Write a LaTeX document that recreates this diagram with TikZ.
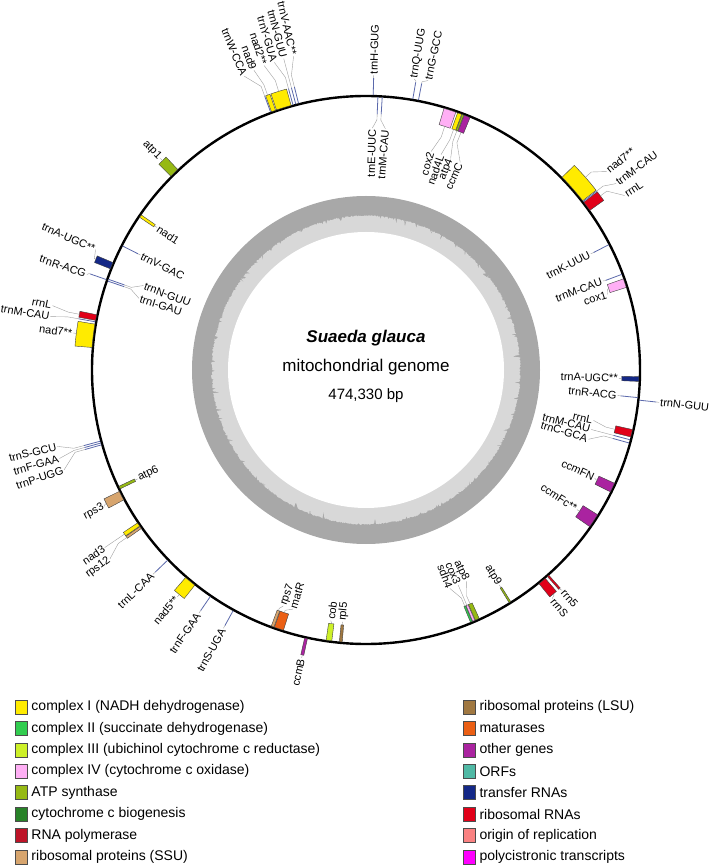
\documentclass[tikz,border=0pt]{standalone}
\usepackage{fontspec}
\setmainfont{Liberation Sans}
\usepackage{tikz}
\usetikzlibrary{positioning}

\definecolor{cI}{RGB}{255,235,0}
\definecolor{cII}{RGB}{50,205,80}
\definecolor{cIII}{RGB}{205,240,40}
\definecolor{cIV}{RGB}{255,175,245}
\definecolor{atp}{RGB}{150,185,20}
\definecolor{ccm}{RGB}{40,130,40}
\definecolor{rpo}{RGB}{190,20,40}
\definecolor{ssu}{RGB}{215,165,110}
\definecolor{lsu}{RGB}{160,120,65}
\definecolor{mat}{RGB}{235,95,20}
\definecolor{oth}{RGB}{170,35,160}
\definecolor{orf}{RGB}{80,185,165}
\definecolor{trna}{RGB}{20,40,135}
\definecolor{rrna}{RGB}{225,0,25}
\definecolor{ori}{RGB}{250,130,130}
\definecolor{poly}{RGB}{255,0,255}
\definecolor{gcdark}{RGB}{168,168,168}
\definecolor{gclight}{RGB}{216,216,216}

\tikzset{
  lbl/.style={font=\fontsize{11}{13}\selectfont, inner sep=1pt},
  leader/.style={draw=gray!75, line width=0.4pt},
  genebox/.style={draw=black!75, line width=0.4pt},
  trnaline/.style={draw=trna!70, line width=0.8pt},
  legbox/.style={draw=black!70, line width=0.6pt, minimum width=12pt, minimum height=14pt, inner sep=0pt},
  legtxt/.style={font=\fontsize{14}{16}\selectfont, inner sep=0pt, anchor=west},
}

% gene box: start angle, end angle (clockwise from top), inner radius, outer radius, colour
\newcommand{\gbox}[5]{%
  \filldraw[genebox, fill=#5] ({90-#1}:#3) arc[start angle={90-#1}, end angle={90-#2}, radius=#3pt]
    -- ({90-#2}:#4) arc[start angle={90-#2}, end angle={90-#1}, radius=#4pt] -- cycle;}
% tRNA: angle, from radius, to radius
\newcommand{\trna}[3]{\draw[trnaline] ({90-#1}:#2) -- ({90-#1}:#3);}
% label: anchor, feature angle, feature radius, label angle, label radius, name, text
\newcommand{\glab}[7]{%
  \pgfmathsetmacro{\labrot}{(#4<180) ? 90-#4 : 270-#4}%
  \pgfmathsetmacro{\labmid}{#3+0.4*(#5-#3)}%
  \coordinate (#6-f) at ({90-#2}:#3);
  \node[lbl, anchor=#1, rotate=\labrot] (#6) at ({90-#4}:#5) {#7};
  \draw[leader] (#6-f) -- ({90-#2}:\labmid) -- (#6.#1);}

\begin{document}
\begin{tikzpicture}[x=1pt, y=1pt]
\useasboundingbox (-366,-496) rectangle (343,370);

% GC content
\pgfmathsetseed{42}
\fill[gcdark] (0,0) circle[radius=174pt];
\fill[gclight] (90:155) \foreach \a in {1,...,1079} { -- ({90-\a/3}:{155-1.5*rnd-7*(rnd>0.93)*rnd}) } -- cycle;
\fill[white] (0,0) circle[radius=138pt];

% genome
\draw[line width=2.4pt] (0,0) circle[radius=274pt];

% genes, outer side
\gbox{339.9}{340.8}{275}{292}{cI}
\gbox{341.0}{344.2}{275}{292}{cI}
\gbox{45.5}{52.0}{275}{292}{cI}
\gbox{52.4}{54.5}{275}{292}{rrna}
\gbox{138.3}{138.7}{275}{292}{rrna}
\gbox{139.3}{141.0}{275}{292}{rrna}
\gbox{192.3}{192.9}{275}{292}{oth}
\gbox{218.5}{221.0}{275}{292}{cI}
\gbox{234.8}{235.3}{275}{292}{ssu}
\gbox{235.4}{236.2}{275}{292}{cI}
\gbox{241.8}{243.8}{275}{292}{ssu}
\gbox{274.7}{279.6}{275}{292}{cI}
\gbox{280.4}{281.6}{275}{292}{rrna}
\gbox{291.6}{293.0}{275}{292}{trna}
\gbox{314.8}{316.8}{275}{292}{atp}
% genes, inner side
\gbox{16.6}{19.2}{256}{273}{cIV}
\gbox{19.6}{20.5}{256}{273}{cI}
\gbox{20.6}{21.0}{256}{273}{atp}
\gbox{21.1}{22.4}{256}{273}{oth}
\gbox{70.5}{72.4}{256}{273}{cIV}
\gbox{91.4}{92.4}{256}{273}{trna}
\gbox{102.6}{104.2}{256}{273}{rrna}
\gbox{114.5}{116.5}{256}{273}{oth}
\gbox{122.0}{125.0}{256}{273}{oth}
\gbox{148.0}{148.4}{256}{273}{atp}
\gbox{155.5}{156.4}{256}{273}{atp}
\gbox{156.5}{157.0}{256}{273}{cIV}
\gbox{157.1}{157.5}{256}{273}{cII}
\gbox{185.0}{185.6}{256}{273}{lsu}
\gbox{187.2}{188.4}{256}{273}{cIII}
\gbox{197.6}{199.6}{256}{273}{mat}
\gbox{199.7}{200.3}{256}{273}{ssu}
\gbox{244.2}{244.8}{256}{273}{atp}
\gbox{304.0}{304.6}{256}{273}{cI}

% tRNAs
\foreach \a in {339.7,344.6,345.2,345.8,1.5,9.8,11.0,52.2,96.3,208.9,214.5,226.2,254.2,254.6,255.0,280.1,289.2}
  {\trna{\a}{275}{292}}
\foreach \a in {2.5,3.4,62.7,69.5,95.8,104.8,105.5,289.0,289.4,297.0}
  {\trna{\a}{273}{256}}

% labels, outer side
\glab{east}{339.7}{292}{337.5}{318}{lW}{trnW-CCA}
\glab{east}{340.3}{292}{339.5}{320}{l9}{nad9}
\glab{east}{342.6}{292}{341.5}{321}{l2}{nad2**}
\glab{east}{344.6}{292}{343.4}{321}{lY}{trnY-GUA}
\glab{east}{345.2}{292}{345.2}{322}{lNa}{trnN-GUU}
\glab{east}{345.8}{292}{347.0}{322}{lVa}{trnV-AAC**}
\glab{west}{1.5}{292}{1.5}{295}{lH}{trnH-GUG}
\glab{west}{9.8}{292}{9.4}{295}{lQ}{trnQ-UUG}
\glab{west}{11.0}{292}{12.1}{296}{lG}{trnG-GCC}
\glab{west}{48.7}{292}{50.5}{312}{l7a}{nad7**}
\glab{west}{52.2}{292}{53.3}{312}{lMb}{trnM-CAU}
\glab{west}{53.4}{292}{56.0}{312}{lLa}{rrnL}
\glab{west}{96.3}{292}{96.3}{295}{lNb}{trnN-GUU}
\glab{west}{138.5}{292}{138.3}{295}{l5}{rrn5}
\glab{west}{140.1}{292}{140.9}{295}{lS}{rrnS}
\glab{east}{192.6}{292}{192.6}{295}{lB}{ccmB}
\glab{east}{208.9}{292}{208.9}{295}{lSa}{trnS-UGA}
\glab{east}{214.5}{292}{214.5}{295}{lFa}{trnF-GAA}
\glab{east}{219.7}{292}{219.8}{295}{l5b}{nad5**}
\glab{east}{226.2}{292}{226.2}{295}{lL}{trnL-CAA}
\glab{east}{235.0}{292}{233.6}{318}{l12}{rps12}
\glab{east}{235.8}{292}{235.8}{316}{l3}{nad3}
\glab{east}{242.8}{292}{242.5}{295}{ls3}{rps3}
\glab{east}{254.2}{292}{251.7}{318}{lP}{trnP-UGG}
\glab{east}{254.6}{292}{253.9}{319}{lFb}{trnF-GAA}
\glab{east}{255.0}{292}{256.1}{318}{lSb}{trnS-GCU}
\glab{east}{277.2}{292}{277.2}{295}{l7b}{nad7**}
\glab{east}{280.1}{292}{279.6}{320}{lMc}{trnM-CAU}
\glab{east}{281.0}{292}{281.6}{320}{lLb}{rrnL}
\glab{east}{289.2}{292}{288.9}{295}{lRa}{trnR-ACG}
\glab{east}{292.3}{292}{294.0}{296}{lAa}{trnA-UGC**}
\glab{east}{315.8}{292}{315.8}{295}{l1}{atp1}

% labels, inner side
\glab{east}{2.5}{256}{1.5}{242}{lE}{trnE-UUC}
\glab{east}{3.4}{256}{4.6}{242}{lMa}{trnM-CAU}
\glab{east}{17.9}{256}{16.6}{228}{lc2}{cox2}
\glab{east}{20.0}{256}{19.2}{228}{l4L}{nad4L}
\glab{east}{20.8}{256}{21.8}{228}{l4}{atp4}
\glab{east}{21.8}{256}{24.4}{228}{lC}{ccmC}
\glab{east}{62.7}{256}{62.6}{253}{lK}{trnK-UUU}
\glab{east}{69.5}{256}{69.4}{253}{lMd}{trnM-CAU}
\glab{east}{71.5}{256}{72.6}{253}{lc1}{cox1}
\glab{east}{91.9}{256}{91.9}{253}{lAb}{trnA-UGC**}
\glab{east}{95.8}{256}{95.8}{253}{lRb}{trnR-ACG}
\glab{east}{103.4}{256}{102.5}{233}{lLc}{rrnL}
\glab{east}{104.8}{256}{104.8}{233}{lMe}{trnM-CAU}
\glab{east}{105.5}{256}{107.3}{233}{lCb}{trnC-GCA}
\glab{east}{115.5}{256}{115.3}{253}{lFN}{ccmFN}
\glab{east}{123.5}{256}{123.5}{253}{lFc}{ccmFc**}
\glab{east}{148.2}{256}{148.2}{253}{l9b}{atp9}
\glab{east}{156.0}{256}{154.6}{234}{l8}{atp8}
\glab{east}{156.8}{256}{156.8}{234}{lc3}{cox3}
\glab{east}{157.3}{256}{159.0}{234}{ls4}{sdh4}
\glab{west}{185.3}{256}{185.3}{253}{lr5}{rpl5}
\glab{west}{187.8}{256}{188.0}{253}{lcob}{cob}
\glab{west}{198.6}{256}{197.0}{250}{lmR}{matR}
\glab{west}{200.0}{256}{199.3}{250}{lr7}{rps7}
\glab{west}{244.5}{256}{244.5}{253}{l6}{atp6}
\glab{west}{289.0}{256}{287.5}{238}{lI}{trnI-GAU}
\glab{west}{289.4}{256}{290.8}{238}{lNc}{trnN-GUU}
\glab{west}{297.0}{256}{297.0}{253}{lV}{trnV-GAC}
\glab{west}{304.3}{256}{304.3}{253}{ln1}{nad1}

% centre
\node[font=\fontsize{17}{20}\selectfont\bfseries\itshape] (species) at (0,32) {Suaeda glauca};
\node[font=\fontsize{17}{20}\selectfont] (molecule) at (0,3) {mitochondrial genome};
\node[font=\fontsize{15}{18}\selectfont] (length) at (0,-26) {474,330 bp};

% legend
\foreach \col/\txt [count=\i] in {cI/complex I (NADH dehydrogenase), cII/complex II (succinate dehydrogenase), cIII/complex III (ubichinol cytochrome c reductase), cIV/complex IV (cytochrome c oxidase), atp/ATP synthase, ccm/cytochrome c biogenesis, rpo/RNA polymerase, ssu/ribosomal proteins (SSU)}
{
  \node[legbox, fill=\col] (legA\i) at (-345, {-337-21.4*(\i-1)}) {};
  \node[legtxt, right=4pt of legA\i] (legA\i-t) {\txt};
}
\foreach \col/\txt [count=\i] in {lsu/ribosomal proteins (LSU), mat/maturases, oth/other genes, orf/ORFs, trna/transfer RNAs, rrna/ribosomal RNAs, ori/origin of replication, poly/polycistronic transcripts}
{
  \node[legbox, fill=\col] (legB\i) at (103, {-337-21.4*(\i-1)}) {};
  \node[legtxt, right=4pt of legB\i] (legB\i-t) {\txt};
}
\end{tikzpicture}
\end{document}
